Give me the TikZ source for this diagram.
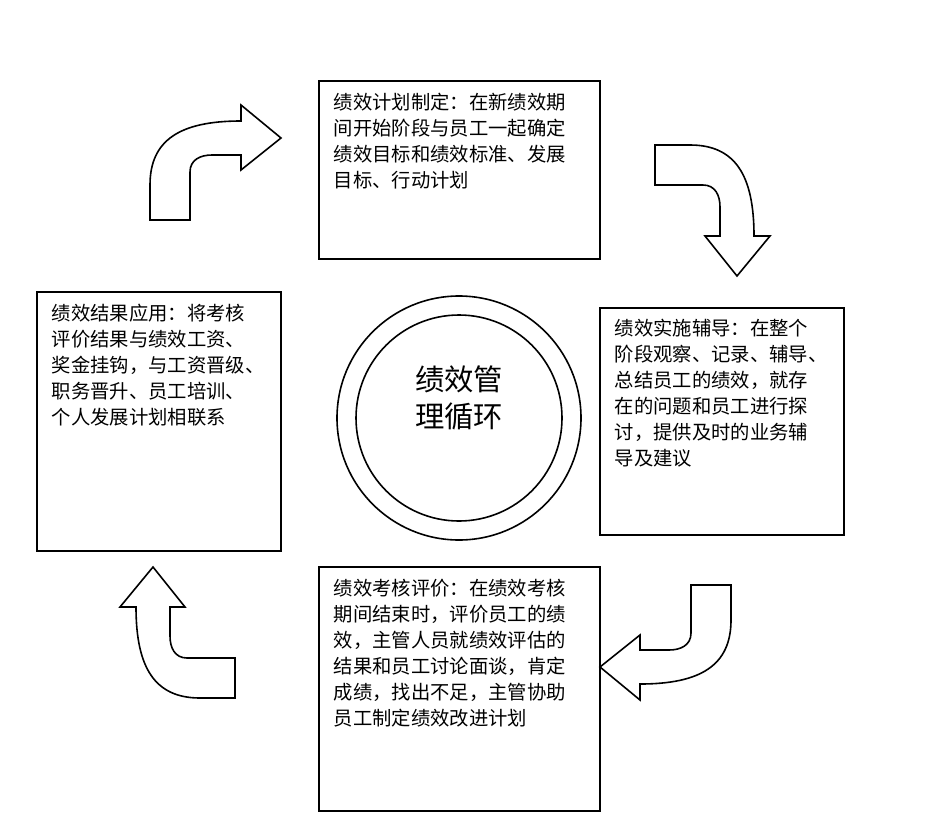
\documentclass[tikz,border=0pt]{standalone}
\usepackage{fontspec}
\newfontfamily\cjk{Noto Sans CJK SC}
\begin{document}
\begin{tikzpicture}[x=0.75pt,y=-0.75pt,line width=1.2pt,
  txt/.style={anchor=north west,align=left,inner sep=0pt,font=\cjk\fontsize{14.5pt}{19.5pt}\selectfont},
  boxx/.style={draw,line join=miter}]
\useasboundingbox (0,0) rectangle (937,828);
\fill[white] (0,0) rectangle (937,828);
\draw[boxx] (319,81) rectangle (600,259);
\draw[boxx] (600,308) rectangle (844,535);
\draw[boxx] (319,567) rectangle (600,811);
\draw[boxx] (37,292) rectangle (281,551);
\node[txt] (t1) at (333,92) {绩效计划制定：在新绩效期\\间开始阶段与员工一起确定\\绩效目标和绩效标准、发展\\目标、行动计划};
\node[txt] (t2) at (614,318) {绩效实施辅导：在整个\\阶段观察、记录、辅导、\\总结员工的绩效，就存\\在的问题和员工进行探\\讨，提供及时的业务辅\\导及建议};
\node[txt] (t3) at (333,578) {绩效考核评价：在绩效考核\\期间结束时，评价员工的绩\\效，主管人员就绩效评估的\\结果和员工讨论面谈，肯定\\成绩，找出不足，主管协助\\员工制定绩效改进计划};
\node[txt] (t4) at (51,303) {绩效结果应用：将考核\\评价结果与绩效工资、\\奖金挂钩，与工资晋级、\\职务晋升、员工培训、\\个人发展计划相联系};
\draw (459,418) circle[radius=122];
\draw (459,418) circle[radius=103];
\node[align=center,font=\cjk\fontsize{22pt}{28pt}\selectfont] (c) at (459,398) {绩效管\\理循环};
\def\bent{(0,115) -- (40,115) -- (40,67) .. controls (40,55) and (50,50) .. (62,50) -- (91,50) -- (91,65) -- (131,33) -- (91,0) -- (91,16) .. controls (30,16) and (0,35) .. (0,80) -- cycle}
\draw[shift={(150,105)}] \bent;
\draw[shift={(770,145)},rotate=-90] \bent;
\draw[shift={(731,700)},rotate=180] \bent;
\draw[shift={(120,698)},rotate=90] \bent;
\end{tikzpicture}
\end{document}
